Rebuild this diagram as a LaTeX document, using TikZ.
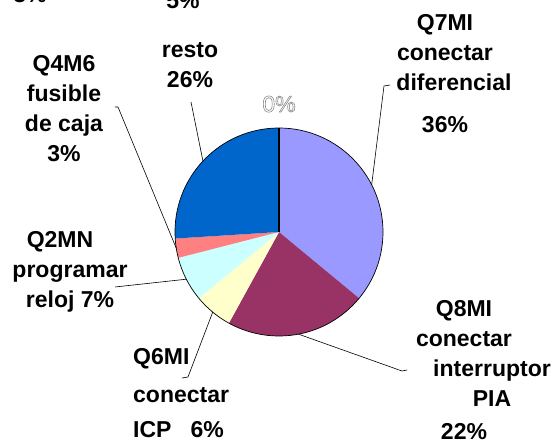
\documentclass[tikz,border=0pt]{standalone}
\usepackage{fontspec}
\setmainfont{Liberation Sans}
\usepackage{xcolor}
\definecolor{pielavender}{HTML}{9999FF}
\definecolor{pieplum}{HTML}{993366}
\definecolor{pieivory}{HTML}{FFFFCC}
\definecolor{pieaqua}{HTML}{CCFFFF}
\definecolor{piecoral}{HTML}{FF8080}
\definecolor{pieblue}{HTML}{0066CC}
\definecolor{pieoutline}{HTML}{8C8C8C}

\begin{document}
\begin{tikzpicture}[
  x=1pt,
  y=1pt,
  every node/.style={font=\bfseries\fontsize{23}{30}\selectfont, inner sep=0pt},
  pielabel/.style={align=center, anchor=base},
  leader/.style={black, line width=0.6pt}
]
  \useasboundingbox (-279,-211) rectangle (275,232);
  \clip (-279,-211) rectangle (275,232);

  \fill[pielavender] (0,0) -- (90:104) arc[start angle=90, end angle=-39.6, radius=104] -- cycle;
  \fill[pieplum] (0,0) -- (-39.6:104) arc[start angle=-39.6, end angle=-118.8, radius=104] -- cycle;
  \fill[pieivory] (0,0) -- (-118.8:104) arc[start angle=-118.8, end angle=-140.4, radius=104] -- cycle;
  \fill[pieaqua] (0,0) -- (-140.4:104) arc[start angle=-140.4, end angle=-165.6, radius=104] -- cycle;
  \fill[piecoral] (0,0) -- (-165.6:104) arc[start angle=-165.6, end angle=-176.4, radius=104] -- cycle;
  \fill[pieblue] (0,0) -- (-176.4:104) arc[start angle=-176.4, end angle=-270, radius=104] -- cycle;

  \draw[black, line width=0.7pt] (0,0) circle[radius=104];
  \draw[black, line width=1.6pt] (0,0) -- (90:104);

  \coordinate (q7mi-tip) at (27:104);
  \coordinate (q8mi-tip) at (-79.2:104);
  \coordinate (q6mi-tip) at (-129.6:104);
  \coordinate (q2mn-tip) at (-153:104);
  \coordinate (q4m6-tip) at (-171:104);
  \coordinate (resto-tip) at (137:104);

  \coordinate (q7mi-end) at (111,147);
  \coordinate (q8mi-end) at (128,-138);
  \coordinate (q6mi-end) at (-97,-146);
  \coordinate (q2mn-end) at (-164,-55);
  \coordinate (q4m6-end) at (-164,125);
  \coordinate (resto-end) at (-88,130);

  \draw[leader] (q7mi-end) -- ++(-6,-1) -- (q7mi-tip);
  \draw[leader] (q8mi-end) -- ++(-5,-1) -- (q8mi-tip);
  \draw[leader] (q6mi-end) -- ++(6,1) -- (q6mi-tip);
  \draw[leader] (q2mn-end) -- (q2mn-tip);
  \draw[leader] (q4m6-end) -- ++(3,0) -- (q4m6-tip);
  \draw[leader] (resto-end) -- (resto-tip);

  \node[pielabel] (q7mi) at (166,99)
    {Q7MI\\conectar\\\hspace*{18pt}diferencial\\[12pt]36\%};
  \node[pielabel] (q8mi) at (185,-208)
    {Q8MI\\conectar\\\hspace*{56pt}interruptor\\\hspace*{56pt}PIA\\[3pt]22\%};
  \node[pielabel, anchor=base west, align=left] (q6mi) at (-146,-206)
    {Q6MI\\[8pt]conectar\\[5pt]ICP~~~6\%};
  \node[pielabel] (q2mn) at (-209,-76)
    {Q2MN\hspace*{20pt}\\programar\\reloj 7\%};
  \node[pielabel] (q4m6) at (-215,70)
    {Q4M6\\fusible\\de caja\\3\%};
  \node[pielabel] (resto) at (-89,144) {resto\\26\%};

  \node[pielabel] (top5) at (-96,223) {5\%};
  \node[pielabel] (top3) at (-249,229) {3\%};

  \node[anchor=base, font=\fontsize{23}{30}\selectfont, pieoutline] (zero) at (0,120)
    {\special{pdf:literal 1 Tr 0.6 w}0\%};
\end{tikzpicture}
\end{document}
